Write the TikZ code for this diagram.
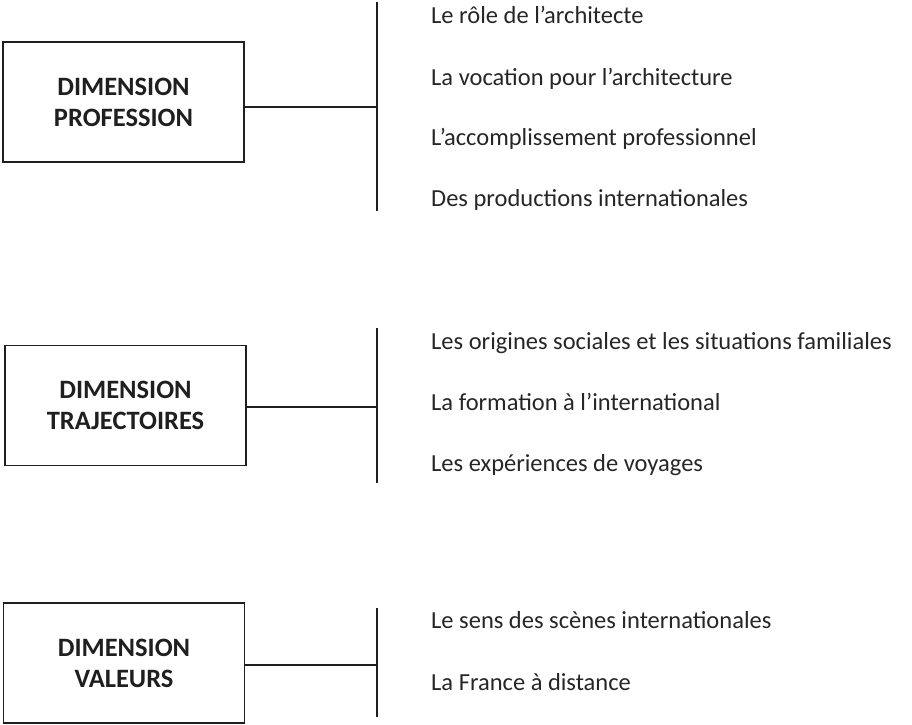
\documentclass[tikz,border=0pt]{standalone}
\usepackage{fontspec}
\setmainfont{Carlito}
\begin{document}
\begin{tikzpicture}[x=1pt,y=-1pt,
  dimbox/.style={draw=black!88,line width=1.6pt,minimum width=241pt,minimum height=120pt,
    inner sep=0pt,align=center,font=\fontsize{26.5}{31}\selectfont\bfseries,text=black!88},
  item/.style={anchor=base west,inner sep=0pt,font=\fontsize{24.5}{29}\selectfont,text=black!85},
  bar/.style={draw=black!88,line width=1.6pt}]
\useasboundingbox (0,0) rectangle (912,724);
% group 1
\node[dimbox] (b1) at (123.5,102) {DIMENSION\\PROFESSION};
\coordinate (t1) at (377,2);
\coordinate (u1) at (377,211);
\coordinate (j1) at (377,107);
\draw[bar] (t1) -- (u1);
\draw[bar] (b1.east |- j1) -- (j1);
\node[item] (p1) at (431,23) {Le rôle de l’architecte};
\node[item] (p2) at (431,85) {La vocation pour l’architecture};
\node[item] (p3) at (431,145) {L’accomplissement professionnel};
\node[item] (p4) at (431,206) {Des productions internationales};
% group 2
\node[dimbox] (b2) at (125.5,405.5) {DIMENSION\\TRAJECTOIRES};
\coordinate (t2) at (377,328);
\coordinate (u2) at (377,483);
\coordinate (j2) at (377,407);
\draw[bar] (t2) -- (u2);
\draw[bar] (b2.east |- j2) -- (j2);
\node[item] (q1) at (431,349) {Les origines sociales et les situations familiales};
\node[item] (q2) at (431,410) {La formation à l’international};
\node[item] (q3) at (431,471) {Les expériences de voyages};
% group 3
\node[dimbox] (b3) at (124,663) {DIMENSION\\VALEURS};
\coordinate (t3) at (377,608);
\coordinate (u3) at (377,717);
\coordinate (j3) at (377,665);
\draw[bar] (t3) -- (u3);
\draw[bar] (b3.east |- j3) -- (j3);
\node[item] (r1) at (431,628) {Le sens des scènes internationales};
\node[item] (r2) at (431,690) {La France à distance};
\end{tikzpicture}
\end{document}
